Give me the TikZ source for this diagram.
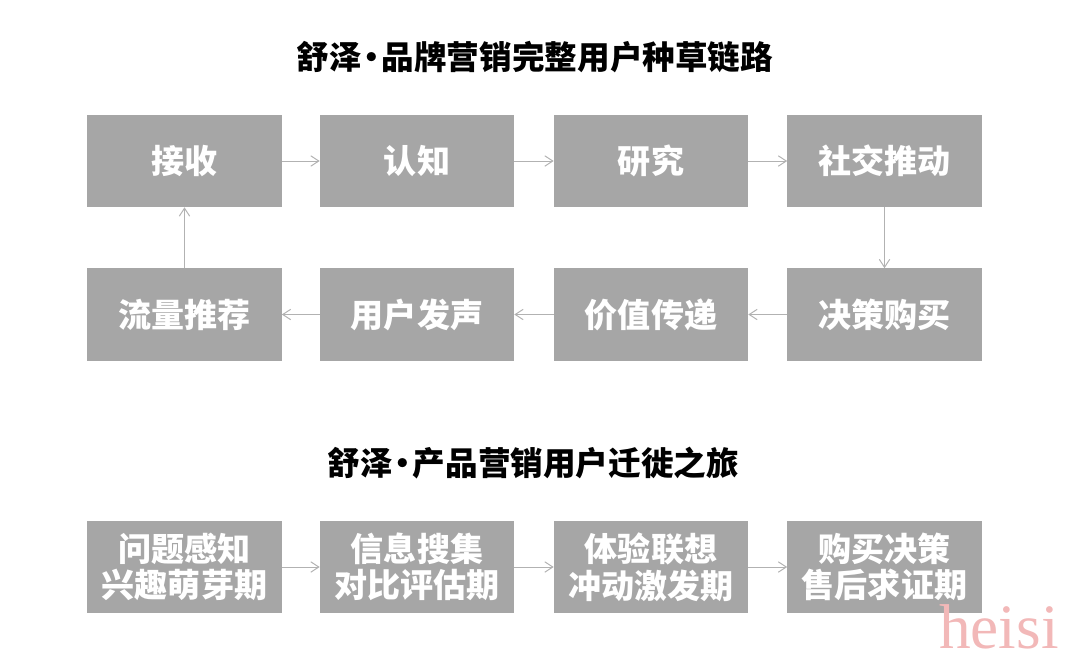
\documentclass[tikz,border=0pt]{standalone}
\usepackage{fontspec}
\newfontfamily\cjk{Noto Sans CJK SC}
\newfontfamily\wmfont{Liberation Serif}
\usetikzlibrary{arrows.meta}
\definecolor{boxgray}{RGB}{166,166,166}
\definecolor{arrowgray}{RGB}{178,178,178}
\definecolor{wmpink}{RGB}{242,184,184}
\newcommand{\middot}{{\kern-0.2em·\kern-0.2em}}
\tikzset{
  stage/.style={fill=boxgray,draw=none,minimum width=4.85cm,minimum height=2.3cm,
    inner sep=0pt,align=center,text=white,
    font=\cjk\bfseries\fontsize{23.5}{26}\selectfont},
  headline/.style={font=\cjk\bfseries\fontsize{23.2}{26}\selectfont,text=black},
  flow/.style={draw=arrowgray,line width=0.7pt,-{Straight Barb[length=2mm,width=2.6mm]}}
}
\begin{document}
\begin{tikzpicture}[x=0.025cm,y=-0.025cm]
    \useasboundingbox (0,0) rectangle (1080,654);
    % brand chain
    \node [headline] (title1) at (535,57) {舒泽\middot 品牌营销完整用户种草链路};
    \node [stage] (jieshou) at (184.5,161) {接收};
    \node [stage] (renzhi) at (417,161) {认知};
    \node [stage] (yanjiu) at (651,161) {研究};
    \node [stage] (shejiao) at (884.5,161) {社交推动};
    \node [stage] (juece) at (884.5,314.5) {决策购买};
    \node [stage] (jiazhi) at (651,314.5) {价值传递};
    \node [stage] (fasheng) at (417,314.5) {用户发声};
    \node [stage] (liuliang) at (184.5,314.5) {流量推荐};
    \draw [flow] (jieshou) -- (renzhi);
    \draw [flow] (renzhi) -- (yanjiu);
    \draw [flow] (yanjiu) -- (shejiao);
    \draw [flow] (shejiao) -- (juece);
    \draw [flow] (juece) -- (jiazhi);
    \draw [flow] (jiazhi) -- (fasheng);
    \draw [flow] (fasheng) -- (liuliang);
    \draw [flow] (liuliang) -- (jieshou);
    % product journey
    \node [headline] (title2) at (533.5,463) {舒泽\middot 产品营销用户迁徙之旅};
    \node [stage] (wenti) at (184.5,567) {问题感知\\兴趣萌芽期};
    \node [stage] (xinxi) at (417,567) {信息搜集\\对比评估期};
    \node [stage] (tiyan) at (651,567) {体验联想\\冲动激发期};
    \node [stage] (goumai) at (884.5,567) {购买决策\\售后求证期};
    \draw [flow] (wenti) -- (xinxi);
    \draw [flow] (xinxi) -- (tiyan);
    \draw [flow] (tiyan) -- (goumai);
    % watermark
    \node [font=\wmfont\fontsize{45}{50}\selectfont,text=wmpink,anchor=base,inner sep=0pt] (mark) at (999,648) {heisi};
\end{tikzpicture}
\end{document}
